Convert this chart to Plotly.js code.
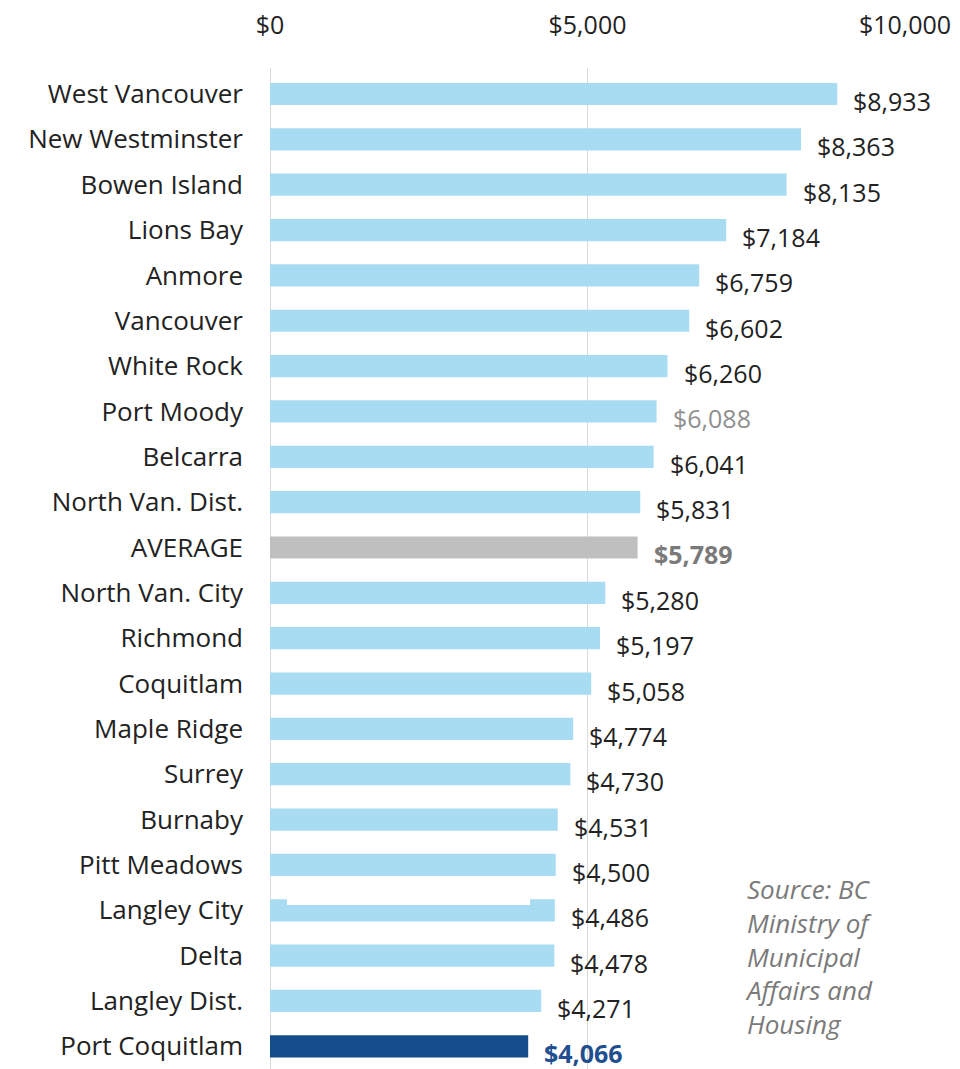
<!DOCTYPE html>
<html>
<head>
<meta charset="utf-8">
<script src="https://cdn.plot.ly/plotly-3.0.1.min.js"></script>
<style>html,body{margin:0;padding:0;background:#fff;}#chart{width:960px;height:1069px;}</style>
</head>
<body>
<div id="chart"></div>
<script>
const municipalities = ["West Vancouver","New Westminster","Bowen Island","Lions Bay","Anmore","Vancouver","White Rock","Port Moody","Belcarra","North Van. Dist.","AVERAGE","North Van. City","Richmond","Coquitlam","Maple Ridge","Surrey","Burnaby","Pitt Meadows","Langley City","Delta","Langley Dist.","Port Coquitlam"];
const amounts = [8933,8363,8135,7184,6759,6602,6260,6088,6041,5831,5789,5280,5197,5058,4774,4730,4531,4500,4486,4478,4271,4066];
const tickValues = [0,5000,10000];
const tickLabels = ["$0","$5,000","$10,000"];
const sourceNote = "Source: BC<br>Ministry of<br>Municipal<br>Affairs and<br>Housing";

const FONT = "'Open Sans', Lato, sans-serif";
const barColors = municipalities.map(m => m === "AVERAGE" ? "#bfbfbf" : (m === "Port Coquitlam" ? "#154d8c" : "#a8dcf3"));
const labelColors = municipalities.map(m => m === "AVERAGE" ? "#7a7a7a" : (m === "Port Coquitlam" ? "#1f4f8f" : (m === "Port Moody" ? "#8f8f8f" : "#222222")));
const labelBold = municipalities.map(m => m === "AVERAGE" || m === "Port Coquitlam");

const annotations = municipalities.map((m, i) => ({
  x: amounts[i], y: m, xref: "x", yref: "y",
  text: (labelBold[i] ? "<b>" : "") + "$" + amounts[i].toLocaleString("en-US") + (labelBold[i] ? "</b>" : ""),
  showarrow: false, xanchor: "left", yanchor: "middle",
  xshift: 14, yshift: -7,
  font: {family: FONT, size: 25, color: labelColors[i]}
}));
annotations.push({
  xref: "paper", yref: "paper", x: 0.745, y: 0.025,
  xanchor: "left", yanchor: "bottom", align: "left",
  text: "<i>" + sourceNote + "</i>", showarrow: false,
  font: {family: FONT, size: 26, color: "#7a7a7a"}
});

const trace = {
  type: "bar", orientation: "h",
  x: amounts, y: municipalities,
  marker: {color: barColors},
  hoverinfo: "skip"
};

const layout = {
  width: 960, height: 1069,
  margin: {l: 270, r: 55, t: 68, b: 0},
  paper_bgcolor: "#fff", plot_bgcolor: "#fff",
  bargap: 0.51,
  showlegend: false,
  xaxis: {
    side: "top", range: [0, 10000],
    tickvals: tickValues, ticktext: tickLabels,
    showgrid: true, gridcolor: "#d9d9d9", gridwidth: 1,
    zeroline: true, zerolinecolor: "#d9d9d9", zerolinewidth: 1,
    showline: false, ticks: "", ticklabelstandoff: 28,
    tickfont: {family: FONT, size: 25, color: "#222"},
    fixedrange: true
  },
  yaxis: {
    autorange: "reversed", type: "category",
    showgrid: false, zeroline: false, showline: false, ticks: "",
    ticklabelstandoff: 26,
    tickfont: {family: FONT, size: 26, color: "#222"},
    fixedrange: true
  },
  annotations: annotations,
  shapes: [{
    type: "rect", xref: "paper", yref: "paper",
    x0: 17/635, x1: 260/635, y0: (1069-905)/1001, y1: (1069-880)/1001,
    fillcolor: "#ffffff", line: {width: 0}, layer: "above"
  }]
};

Plotly.newPlot("chart", [trace], layout, {displayModeBar: false, staticPlot: true});
</script>
</body>
</html>
